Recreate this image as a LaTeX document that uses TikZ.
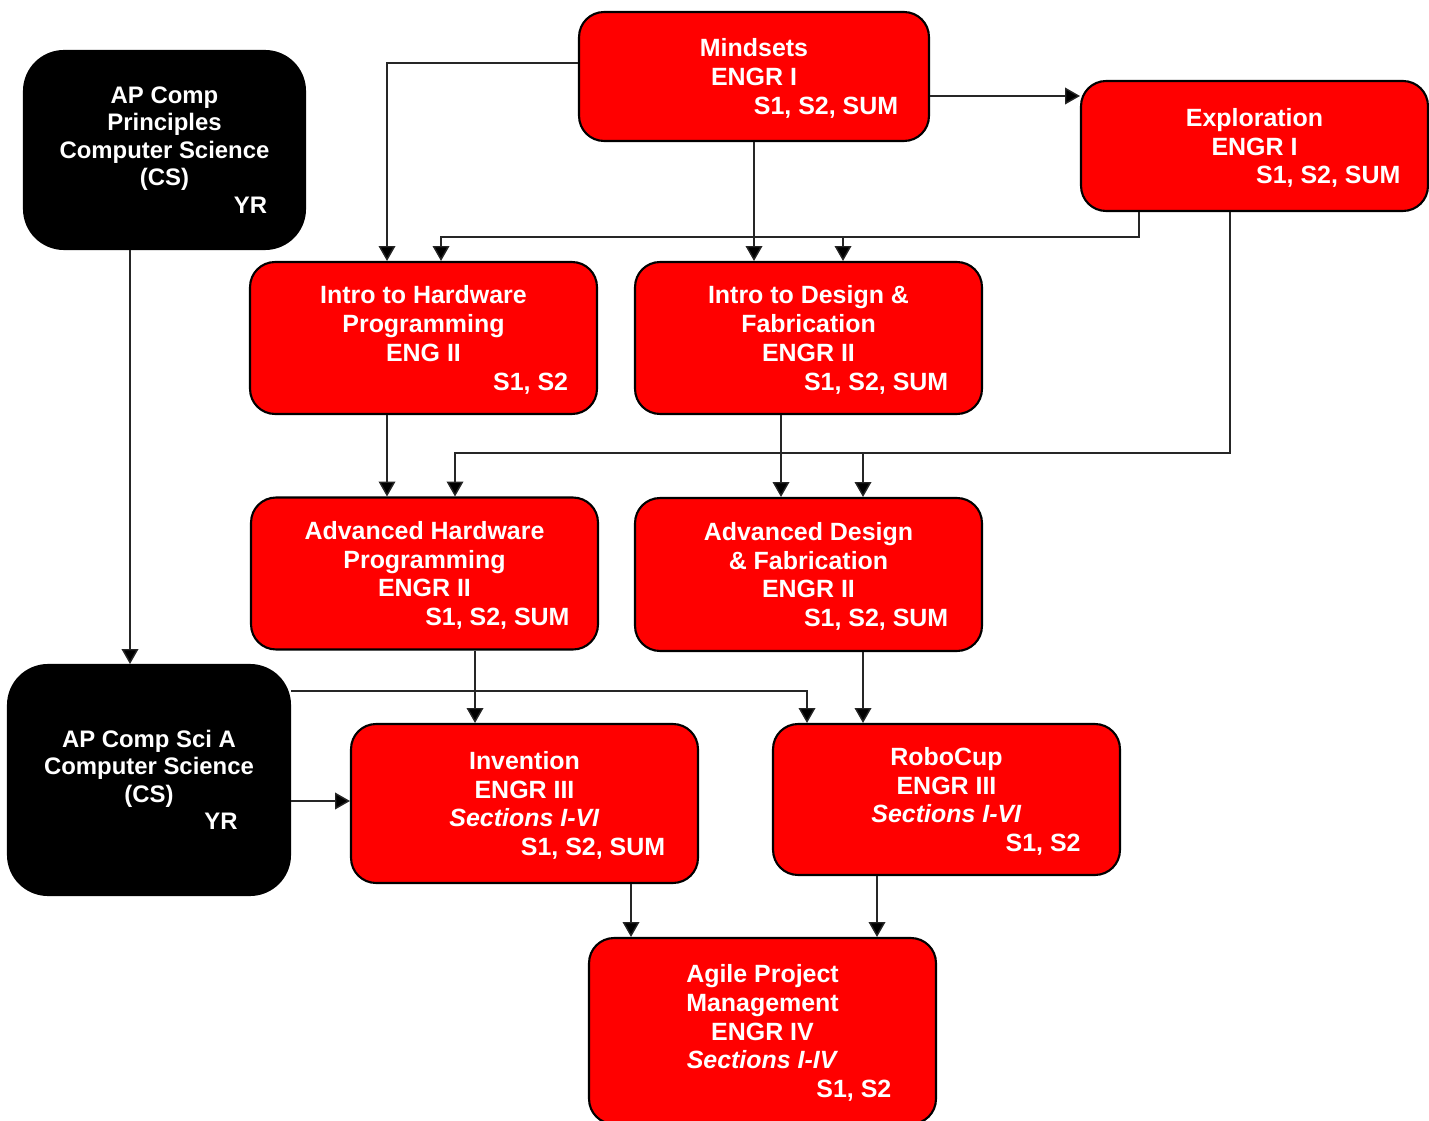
\documentclass[tikz,border=0pt]{standalone}
\usepackage{fontspec}
\setmainfont{Liberation Sans}
\usetikzlibrary{arrows.meta}

\begin{document}
\begin{tikzpicture}[x=0.02cm, y=-0.02cm, % one unit is one pixel, y runs down
  course/.style={draw=black, line width=1.2pt, fill=red, text=white, rounded corners=0.5cm,
    align=center, inner sep=0pt, minimum width=6.94cm, minimum height=3.04cm, text depth=0pt,
    font=\fontsize{14.2}{16.4}\selectfont\bfseries},
  apbox/.style={course, fill=black, rounded corners=0.8cm, font=\fontsize{13.6}{15.6}\selectfont\bfseries},
  arr/.style={-{Triangle[width=9.5pt,length=8.5pt,fill=black]}, line width=0.8pt, draw=black!85}]
\useasboundingbox (0,0) rectangle (1429,1121);

%top row
\node[course, minimum width=7cm, minimum height=2.58cm] (mind) at (754,76.5)
  {Mindsets\\ENGR I\\\hspace*{82pt}S1, S2, SUM};
\node[course, minimum height=2.6cm] (expl) at (1254.5,146)
  {Exploration\\ENGR I\\\hspace*{84pt}S1, S2, SUM};
\node[apbox, minimum width=5.62cm, minimum height=3.96cm] (apcp) at (164.5,150)
  {AP Comp\\Principles\\Computer Science\\(CS)\\\hspace*{98pt}YR};

%intro and advanced
\node[course] (ihw) at (423.5,338)
  {Intro to Hardware\\Programming\\ENG II\\\hspace*{122pt}S1, S2};
\node[course] (idf) at (808.5,338)
  {Intro to Design \&\\Fabrication\\ENGR II\\\hspace*{77pt}S1, S2, SUM};
\node[course] (ahw) at (424.5,573.5)
  {Advanced Hardware\\Programming\\ENGR II\\\hspace*{83pt}S1, S2, SUM};
\node[course, minimum height=3.06cm] (adf) at (808.5,574.5)
  {Advanced Design\\\& Fabrication\\ENGR II\\\hspace*{77pt}S1, S2, SUM};

%third level
\node[apbox, minimum width=5.64cm, minimum height=4.6cm] (apcsa) at (149,780)
  {AP Comp Sci A\\Computer Science\\(CS)\\\hspace*{82pt}YR};
\node[course, minimum height=3.18cm] (inv) at (524.5,803.5)
  {Invention\\ENGR III\\\textit{Sections I-VI}\\\hspace*{78pt}S1, S2, SUM};
\node[course, minimum height=3.02cm] (robo) at (946.5,799.5)
  {RoboCup\\ENGR III\\\textit{Sections I-VI}\\\hspace*{110pt}S1, S2};
\node[course, minimum height=3.72cm] (agile) at (762.5,1031)
  {Agile Project\\Management\\ENGR IV\\\textit{Sections I-IV}\\\hspace*{104pt}S1, S2};

%bus lines
\coordinate (busA) at (0,237);
\coordinate (busB) at (0,453);
\coordinate (busC) at (0,691);

\draw[arr] (mind.west |- 0,63) -| (ihw.north -| 387,0);
\draw[arr] (mind.south) -- (mind.south |- idf.north);
\draw[arr] (mind.east |- 0,96) -- (expl.west |- 0,96);
\draw[arr] (expl.south -| 1139,0) |- (busA -| 441,0) -- (ihw.north -| 441,0);
\draw[arr] (busA -| 843,0) -- (idf.north -| 843,0);
\draw[arr] (expl.south -| 1230,0) |- (busB -| 455,0) -- (ahw.north -| 455,0);
\draw[arr] (busB -| 863,0) -- (adf.north -| 863,0);
\draw[arr] (ihw.south -| 387,0) -- (ahw.north -| 387,0);
\draw[arr] (idf.south -| 781,0) -- (adf.north -| 781,0);
\draw[arr] (apcp.south -| 130,0) -- (apcsa.north -| 130,0);
\draw[arr] (apcsa.east |- busC) -| (robo.north -| 807,0);
\draw[arr] (ahw.south -| 475,0) -- (inv.north -| 475,0);
\draw[arr] (adf.south -| 863,0) -- (robo.north -| 863,0);
\draw[arr] (apcsa.east |- 0,801) -- (inv.west |- 0,801);
\draw[arr] (inv.south -| 631,0) -- (agile.north -| 631,0);
\draw[arr] (robo.south -| 877,0) -- (agile.north -| 877,0);
\end{tikzpicture}
\end{document}
